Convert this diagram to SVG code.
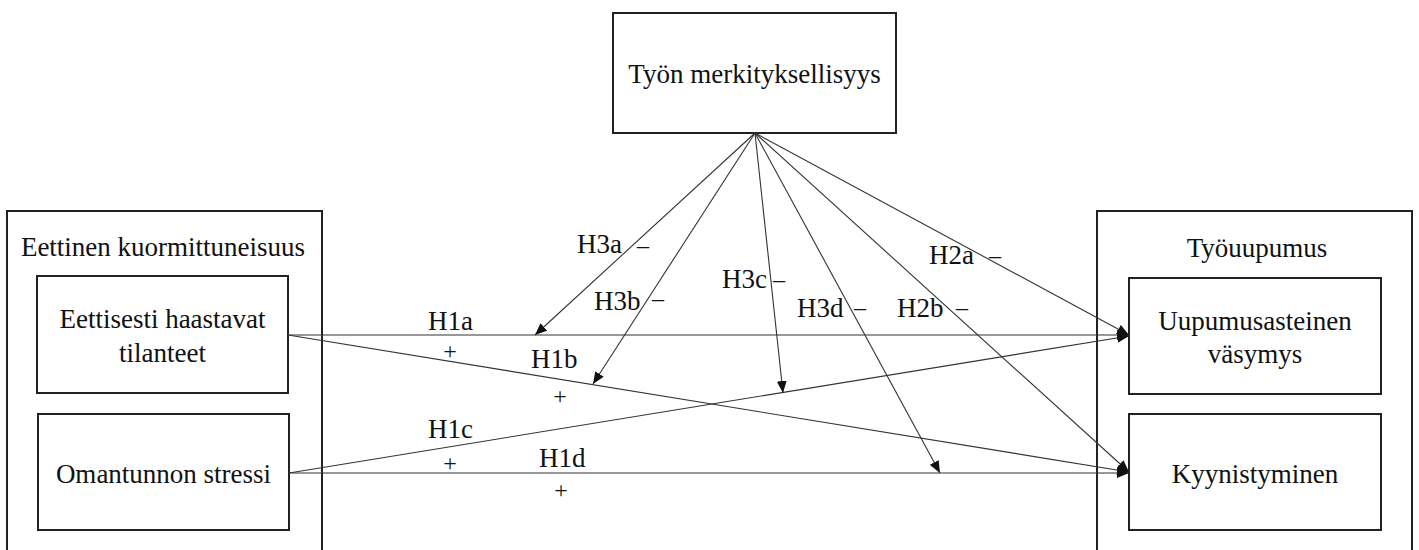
<svg xmlns="http://www.w3.org/2000/svg" width="1419" height="550" viewBox="0 0 1419 550">
<style>
.box{fill:#fff;stroke:#222;stroke-width:2}
.outer{fill:none;stroke:#222;stroke-width:2}
.t{font-family:"Liberation Serif","Times New Roman",serif;font-size:27px;fill:#111}
.c{text-anchor:middle}
.s{font-family:"Liberation Serif","Times New Roman",serif;font-size:24px;fill:#111}
.ln{stroke:#333;stroke-width:1.1;fill:none;marker-end:url(#ah)}
</style>
<defs>
<marker id="ah" markerUnits="userSpaceOnUse" markerWidth="13" markerHeight="10" refX="12" refY="5" orient="auto">
<path d="M0,0 L12,5 L0,10 z" fill="#111"/>
</marker>
</defs>
<rect width="1419" height="550" fill="#fff"/>

<g id="node-eettinen">
<rect class="outer" x="7" y="211" width="315" height="360"/>
<text class="t c" x="163" y="256">Eettinen kuormittuneisuus</text>
</g>
<g id="node-tilanteet">
<rect class="box" x="37" y="276" width="251" height="117"/>
<text class="t c" x="162.5" y="328">Eettisesti haastavat</text>
<text class="t c" x="162.5" y="362">tilanteet</text>
</g>
<g id="node-stressi">
<rect class="box" x="38" y="414" width="251" height="116"/>
<text class="t c" x="163.5" y="483">Omantunnon stressi</text>
</g>
<g id="node-tyouupumus">
<rect class="outer" x="1097" y="211" width="315" height="360"/>
<text class="t c" x="1257" y="257">Työuupumus</text>
</g>
<g id="node-uupumus">
<rect class="box" x="1129" y="278" width="252" height="116"/>
<text class="t c" x="1255" y="330">Uupumusasteinen</text>
<text class="t c" x="1255" y="363">väsymys</text>
</g>
<g id="node-kyynistyminen">
<rect class="box" x="1129" y="414" width="252" height="116"/>
<text class="t c" x="1255" y="483">Kyynistyminen</text>
</g>
<g id="node-merkityksellisyys">
<rect class="box" x="613" y="13" width="283" height="120"/>
<text class="t c" x="754.5" y="83">Työn merkityksellisyys</text>
</g>

<g id="connectors">
<line class="ln" x1="288" y1="335" x2="1129" y2="335"/>
<line class="ln" x1="288" y1="335" x2="1129" y2="472"/>
<line class="ln" x1="289" y1="473" x2="1129" y2="336"/>
<line class="ln" x1="289" y1="473" x2="1129" y2="473"/>
<line class="ln" x1="755" y1="133" x2="535" y2="335"/>
<line class="ln" x1="755" y1="133" x2="593" y2="384"/>
<line class="ln" x1="755" y1="133" x2="783" y2="393"/>
<line class="ln" x1="755" y1="133" x2="940" y2="473"/>
<line class="ln" x1="755" y1="133" x2="1129" y2="335"/>
<line class="ln" x1="755" y1="133" x2="1129" y2="472"/>
</g>

<g id="labels">
<text class="t" x="577" y="253">H3a</text><text class="s" x="637" y="253">–</text>
<text class="t" x="594" y="310">H3b</text><text class="s" x="652" y="306">–</text>
<text class="t" x="722" y="288">H3c</text><text class="s" x="773" y="287">–</text>
<text class="t" x="797" y="317">H3d</text><text class="s" x="854" y="315">–</text>
<text class="t" x="897" y="317">H2b</text><text class="s" x="956" y="315">–</text>
<text class="t" x="929" y="264">H2a</text><text class="s" x="989" y="263">–</text>
<text class="t" x="428" y="330">H1a</text><text class="s c" x="450" y="359">+</text>
<text class="t" x="531" y="368">H1b</text><text class="s c" x="560" y="404">+</text>
<text class="t" x="428" y="438">H1c</text><text class="s c" x="450" y="471">+</text>
<text class="t" x="539" y="467">H1d</text><text class="s c" x="561" y="498">+</text>
</g>
</svg>
